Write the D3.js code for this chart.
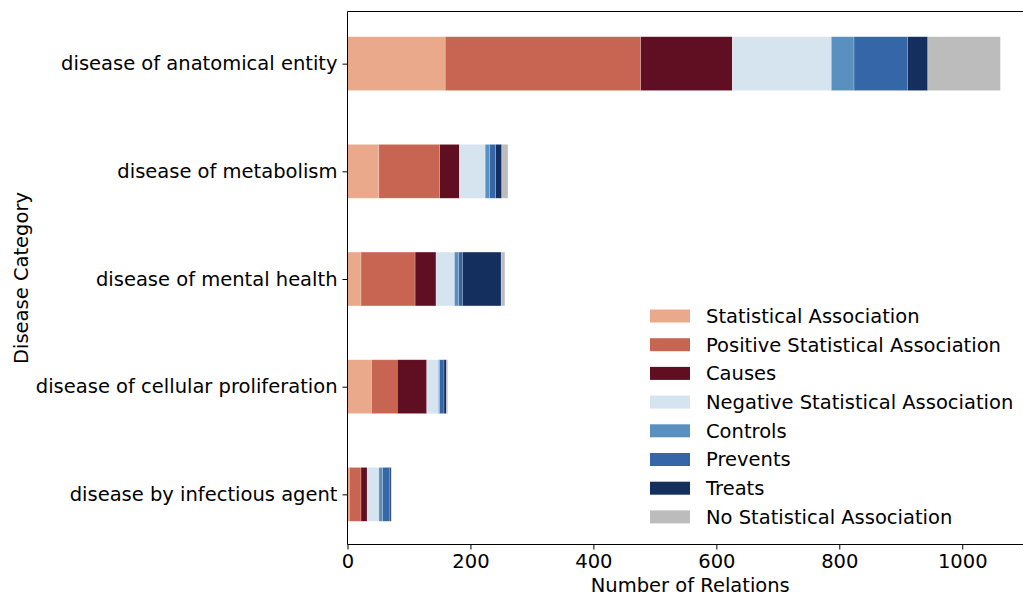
<!DOCTYPE html>
<html>
<head>
<meta charset="utf-8">
<script src="https://cdn.jsdelivr.net/npm/d3@7"></script>
<style>
  html, body { margin: 0; padding: 0; background: #fff; }
  svg { display: block; font-family: "DejaVu Sans", sans-serif; }
</style>
</head>
<body>
<svg id="chart" width="1023" height="598"></svg>
<script>
// Disease categories (top to bottom) and relation counts per relation type
const categories = [
  "disease of anatomical entity",
  "disease of metabolism",
  "disease of mental health",
  "disease of cellular proliferation",
  "disease by infectious agent"
];
const relationTypes = [
  "Statistical Association",
  "Positive Statistical Association",
  "Causes",
  "Negative Statistical Association",
  "Controls",
  "Prevents",
  "Treats",
  "No Statistical Association"
];
const statisticalAssociation         = [159, 51, 22, 39, 3];
const positiveStatisticalAssociation = [318, 99, 88, 42, 19];
const causes                         = [149, 32, 34, 48, 10];
const negativeStatisticalAssociation = [161, 42, 30, 19, 19];
const controls                       = [37, 7, 7, 2, 6];
const prevents                       = [87, 10, 6, 7, 12];
const treats                         = [33, 10, 63, 4, 2];
const noStatisticalAssociation       = [118, 10, 6, 2, 1];
const xTicks = [0, 200, 400, 600, 800, 1000];

const seriesValues = [
  statisticalAssociation, positiveStatisticalAssociation, causes,
  negativeStatisticalAssociation, controls, prevents, treats,
  noStatisticalAssociation
];
const colors = ["#e9a98a", "#c86552", "#600e22", "#d6e4ef",
                "#5990c0", "#3566a8", "#142e5d", "#bcbcbc"];

// Build row objects for the stack layout
const rows = categories.map((c, i) => {
  const r = { category: c };
  relationTypes.forEach((t, k) => { r[t] = seriesValues[k][i]; });
  return r;
});
const stacked = d3.stack().keys(relationTypes)(rows);
const maxTotal = d3.max(rows, r => d3.sum(relationTypes, t => r[t]));

const svg = d3.select("#chart");
const plotLeft = 347.5, plotRight = 1033, plotTop = 11.5, plotBottom = 544.5;
const fontSize = 19.5;

const x = d3.scaleLinear().domain([0, maxTotal * 1.05]).range([plotLeft, plotRight]);
// category index -> vertical position, with matplotlib-style margins
const y = d3.scaleLinear().domain([-0.475, categories.length - 1 + 0.475]).range([plotTop, plotBottom]);
const barHalf = 0.25;
const color = d3.scaleOrdinal().domain(relationTypes).range(colors);

// Stacked bars
const g = svg.append("g");
stacked.forEach(layer => {
  g.append("g")
    .attr("fill", color(layer.key))
    .selectAll("rect")
    .data(layer)
    .join("rect")
      .attr("x", d => x(d[0]))
      .attr("width", d => x(d[1]) - x(d[0]))
      .attr("y", (d, i) => y(i - barHalf) + 1)
      .attr("height", (d, i) => y(i + barHalf) - y(i - barHalf))
      .attr("stroke", "#ffffff")
      .attr("stroke-opacity", 0.35)
      .attr("stroke-width", 0.6);
});

// Axes
const xAxis = d3.axisBottom(x).tickValues(xTicks).tickSize(5).tickPadding(5).tickFormat(d3.format("d"));
const gx = svg.append("g").attr("transform", `translate(0,${plotBottom})`).call(xAxis);
gx.select(".domain").remove();
gx.selectAll("text").attr("font-size", fontSize).attr("fill", "#000").attr("font-family", "DejaVu Sans");
gx.selectAll("line").attr("stroke", "#000").attr("stroke-width", 1);

const yAxis = d3.axisLeft(y).tickValues(d3.range(categories.length))
  .tickFormat(i => categories[i]).tickSize(5).tickPadding(5);
const gy = svg.append("g").attr("transform", `translate(${plotLeft},1)`).call(yAxis);
gy.select(".domain").remove();
gy.selectAll("text").attr("font-size", fontSize).attr("fill", "#000").attr("font-family", "DejaVu Sans");
gy.selectAll("line").attr("stroke", "#000").attr("stroke-width", 1);

// Spines
const spine = svg.append("g").attr("stroke", "#000").attr("stroke-width", 1).attr("fill", "none");
spine.append("line").attr("x1", plotLeft).attr("x2", plotLeft).attr("y1", plotTop).attr("y2", plotBottom);
spine.append("line").attr("x1", plotLeft).attr("x2", plotRight).attr("y1", plotBottom).attr("y2", plotBottom);
spine.append("line").attr("x1", plotLeft).attr("x2", plotRight).attr("y1", plotTop).attr("y2", plotTop);
spine.append("line").attr("x1", plotRight).attr("x2", plotRight).attr("y1", plotTop).attr("y2", plotBottom);

// Axis titles
svg.append("text")
  .attr("x", (plotLeft + plotRight) / 2).attr("y", 592)
  .attr("text-anchor", "middle").attr("font-size", fontSize).attr("fill", "#000")
  .text("Number of Relations");
svg.append("text")
  .attr("transform", `translate(28,${(plotTop + plotBottom) / 2}) rotate(-90)`)
  .attr("text-anchor", "middle").attr("font-size", fontSize).attr("fill", "#000")
  .text("Disease Category");

// Legend
const legend = svg.append("g").attr("transform", "translate(650,316)");
const item = legend.selectAll("g").data(relationTypes).join("g")
  .attr("transform", (d, i) => `translate(0,${i * 28.7})`);
item.append("rect").attr("x", 0).attr("y", -6.5).attr("width", 40).attr("height", 13)
  .attr("fill", d => color(d));
item.append("text").attr("x", 56).attr("y", 0).attr("dy", "0.35em")
  .attr("font-size", fontSize).attr("fill", "#000").text(d => d);
</script>
</body>
</html>
